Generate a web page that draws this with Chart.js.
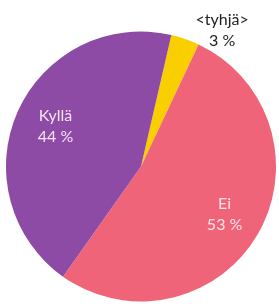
<!DOCTYPE html>
<html>
<head>
<meta charset="utf-8">
<script src="https://cdn.jsdelivr.net/npm/chart.js@4/dist/chart.umd.min.js"></script>
<style>
html,body{margin:0;padding:0;background:#fff;}
#wrap{width:279px;height:304px;}
</style>
</head>
<body>
<div id="wrap"><canvas id="c" width="279" height="304"></canvas></div>
<script>
const categories = ["<tyhjä>", "Ei", "Kyllä"];
const shares = [3.4, 52.8, 43.8];
const colors = ["#f9cf00", "#ef6479", "#8e4ba6"];

const labelPlugin = {
  id: 'sliceLabels',
  afterDatasetsDraw(chart, args, opts) {
    const ctx = chart.ctx;
    const meta = chart.getDatasetMeta(0);
    meta.data.forEach((arc, i) => {
      const p = arc.getProps(['x','y','startAngle','endAngle','outerRadius'], true);
      const mid = (p.startAngle + p.endAngle) / 2 + opts.angleShift[i] * Math.PI / 180;
      const r = p.outerRadius * opts.radius[i];
      const cx = p.x + Math.cos(mid) * r;
      const cy = p.y + Math.sin(mid) * r;
      ctx.save();
      ctx.font = '16px Lato, "Open Sans", sans-serif';
      ctx.textAlign = 'center';
      ctx.textBaseline = 'middle';
      ctx.fillStyle = opts.color[i];
      ctx.fillText(categories[i], cx, cy - 10);
      ctx.fillText(Math.round(shares[i]) + ' %', cx, cy + 11);
      ctx.restore();
    });
  }
};

new Chart(document.getElementById('c'), {
  type: 'pie',
  data: {
    labels: categories,
    datasets: [{
      data: shares,
      backgroundColor: colors,
      borderWidth: 0,
      hoverOffset: 0
    }]
  },
  options: {
    responsive: false,
    animation: false,
    rotation: 13,
    layout: { padding: { left: 6, right: 3, top: 31, bottom: 2 } },
    plugins: {
      legend: { display: false },
      tooltip: { enabled: false },
      sliceLabels: {
        radius: [1.18, 0.71, 0.70],
        angleShift: [11.5, -1, 1],
        color: ["#222222", "#fde3e6", "#f3e4f5"]
      }
    }
  },
  plugins: [labelPlugin]
});
</script>
</body>
</html>
